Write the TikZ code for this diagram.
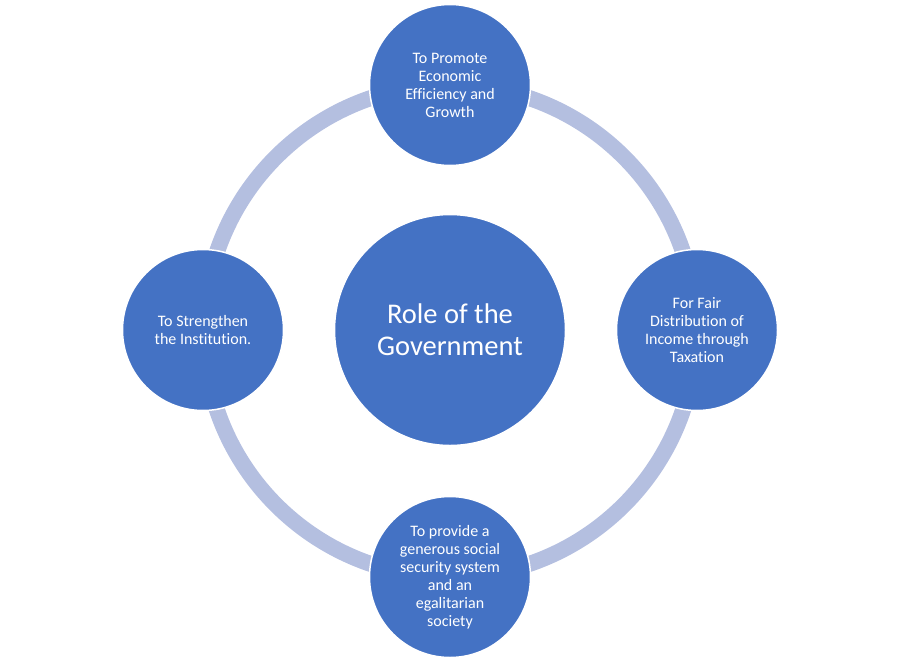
\documentclass[tikz,border=0pt]{standalone}
\usepackage{fontspec}
\setmainfont[Ligatures=NoCommon]{Carlito}
\definecolor{blueA}{HTML}{4472C4}
\definecolor{ringC}{HTML}{B4BFE0}
\begin{document}
\begin{tikzpicture}[x=1pt,y=-1pt,
  sat/.style={circle,fill=blueA,draw=white,line width=1.5pt,minimum size=161pt,inner sep=0pt,
    text=white,align=center,font=\fontsize{16}{18}\selectfont},
  hub/.style={circle,fill=blueA,draw=white,line width=1.5pt,minimum size=231pt,inner sep=0pt,
    text=white,align=center,font=\fontsize{28.5}{32}\selectfont}]
\useasboundingbox (0,0) rectangle (900,659);
\coordinate (ctr) at (450,331);
\draw[ringC,line width=16pt] (ctr) circle[radius=246];
\node[hub] (hub) at (450,330) {Role of the\\Government};
\node[sat] (top) at (450,85) {To Promote\\Economic\\Efficiency and\\Growth};
\node[sat] (right) at (697,330) {For Fair\\Distribution of\\Income through\\Taxation};
\node[sat] (bottom) at (450,577) {To provide a\\generous social\\security system\\and an\\egalitarian\\society};
\node[sat] (left) at (203,330) {To Strengthen\\the Institution.};
\end{tikzpicture}
\end{document}
